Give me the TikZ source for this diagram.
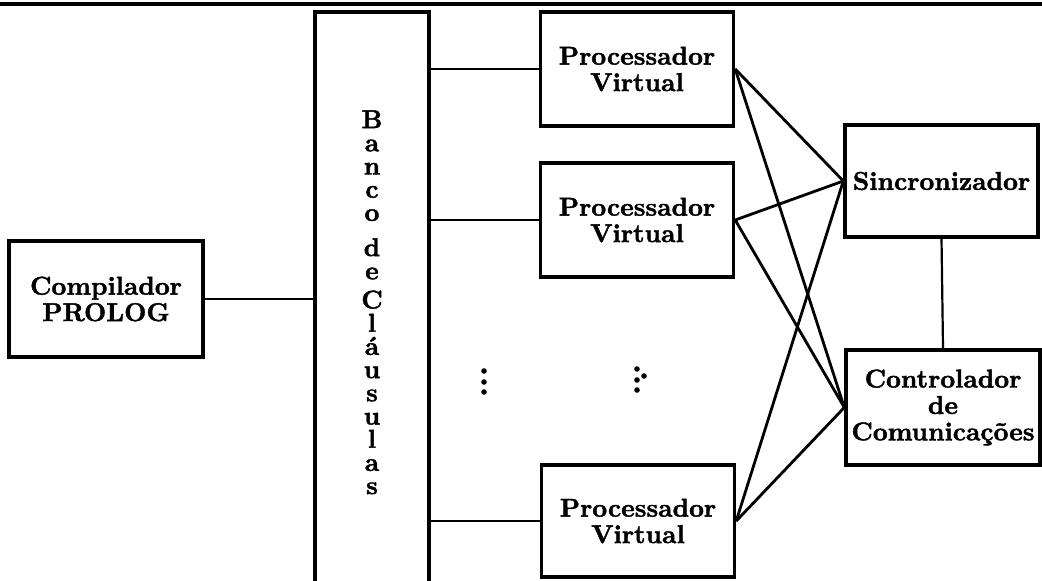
\documentclass[tikz,border=0pt]{standalone}
\usepackage{fontspec}
\setmainfont{lmroman10-regular.otf}[BoldFont=lmroman10-bold.otf, BoldFeatures={FakeBold=1.6}]
\begin{document}
\begin{tikzpicture}[x=0.5pt,y=-0.5pt,
  boxnode/.style={draw, line width=1.7pt, minimum width=96.5pt, minimum height=57pt,
    inner sep=0pt, align=center, font=\fontsize{12.9}{13.2}\selectfont\bfseries},
  conn/.style={line width=1.4pt},
  thinconn/.style={line width=1.1pt},
  dotnode/.style={circle, fill=black, inner sep=0pt, minimum size=2.8pt}]
\useasboundingbox (0,0) rectangle (1042,580);
\clip (0,0) rectangle (1042,580);
% top rule
\coordinate (rl) at (0,4);
\coordinate (rr) at (1042,4);
\draw[line width=1.6pt] (rl) -- (rr);
% boxes
\node[boxnode, minimum width=97pt, minimum height=58pt] (comp) at (106,299) {Compilador\\PROLOG};
\node[draw, line width=1.7pt, minimum width=57pt, minimum height=304pt, inner sep=0pt] (banco) at (372,316) {};
\node[anchor=north, inner sep=0pt, align=center, font=\fontsize{12.9}{11.6}\selectfont\bfseries] (bancotxt) at (372,110)
  {B\\a\\n\\c\\o\\[6pt]d\\e\\[3pt]C\\l\\á\\u\\s\\u\\l\\a\\s};
\node[boxnode] (pv1) at (637,69) {Processador\\Virtual};
\node[boxnode] (pv2) at (637,220) {Processador\\Virtual};
\node[boxnode, minimum height=56pt] (pv3) at (638,521) {Processador\\Virtual};
\node[boxnode, minimum height=56pt] (sinc) at (941.5,181) {Sincronizador};
\node[boxnode, minimum width=97pt, minimum height=57.5pt] (ctrl) at (943,407.5) {Controlador\\de\\Comunicações};
% connectors
\draw[conn] (comp.east) -- (comp.east -| banco.west);
\draw[conn] (banco.east |- pv1.west) -- (pv1.west);
\draw[conn] (banco.east |- pv2.west) -- (pv2.west);
\draw[conn] (banco.east |- pv3.west) -- (pv3.west);
\draw[conn] (pv1.east) -- (sinc.west);
\draw[conn] (pv1.east) -- (ctrl.west);
\draw[conn] (pv2.east) -- (sinc.west);
\draw[conn] (pv2.east) -- (ctrl.west);
\draw[conn] (pv3.east) -- (sinc.west);
\draw[conn] (pv3.east) -- (ctrl.west);
\draw[thinconn] (sinc.south) -- (ctrl.north);
% dots
\node[dotnode] (la) at (484,371) {};
\node[dotnode] (lb) at (484,382) {};
\node[dotnode] (lc) at (484,392) {};
\node[dotnode] (ra) at (637,369) {};
\node[dotnode] (rb) at (637,380) {};
\node[dotnode] (rc) at (637,390) {};
\node[dotnode] (rd) at (644,376) {};
\end{tikzpicture}
\end{document}
